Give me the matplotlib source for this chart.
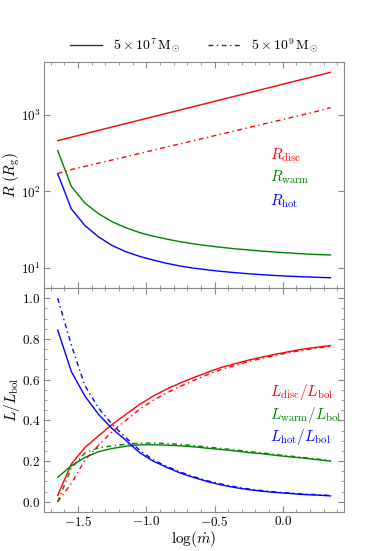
import numpy as np
import matplotlib
matplotlib.use("Agg")
import matplotlib.pyplot as plt
from matplotlib.ticker import MultipleLocator, NullLocator
from matplotlib.lines import Line2D

plt.rcParams['font.family'] = 'serif'
plt.rcParams['font.serif'] = ['cmr10']
plt.rcParams['mathtext.fontset'] = 'cm'
plt.rcParams['axes.formatter.use_mathtext'] = True
plt.rcParams['axes.unicode_minus'] = True

# log(mdot) grid
log_mdot = np.round(np.arange(-1.65, 0.36, 0.1), 2)

# radii (Rg), 5e7 Msun
r_disc_7 = [457, 506, 561, 622, 689, 763, 846, 937, 1038, 1150, 1275,
            1412, 1565, 1734, 1921, 2129, 2359, 2614, 2896, 3209, 3556]
r_warm_7 = [340, 116, 70, 51, 40, 33.5, 29, 26, 23.8, 22, 20.6,
            19.5, 18.6, 17.8, 17.2, 16.6, 16.1, 15.7, 15.3, 15.0, 14.8]
r_hot_7 = [170, 59, 35.7, 25.4, 19.6, 16.3, 14.2, 12.7, 11.5, 10.6, 9.95,
           9.45, 9.03, 8.7, 8.42, 8.18, 7.98, 7.82, 7.68, 7.57, 7.47]
# 5e9 Msun disc radius
r_disc_9 = [170, 192, 211, 233, 256, 282, 311, 343, 378, 416, 459,
            505, 557, 613, 676, 745, 820, 905, 997, 1100, 1230]

# luminosity fractions, 5e7 Msun
l_disc_7 = [0.031, 0.185, 0.267, 0.324, 0.380, 0.429, 0.478, 0.519, 0.554, 0.584, 0.611,
            0.636, 0.660, 0.678, 0.696, 0.711, 0.725, 0.738, 0.750, 0.759, 0.767]
l_warm_7 = [0.120, 0.177, 0.218, 0.246, 0.262, 0.273, 0.280, 0.280, 0.278, 0.275, 0.270,
            0.263, 0.257, 0.250, 0.242, 0.236, 0.228, 0.221, 0.215, 0.207, 0.200]
l_hot_7 = [0.844, 0.640, 0.519, 0.429, 0.359, 0.302, 0.242, 0.200, 0.169, 0.141, 0.119,
           0.099, 0.083, 0.070, 0.060, 0.052, 0.046, 0.041, 0.036, 0.033, 0.029]
# 5e9 Msun
l_disc_9 = [0.000, 0.090, 0.205, 0.278, 0.345, 0.400, 0.454, 0.498, 0.535, 0.567, 0.597,
            0.625, 0.650, 0.670, 0.689, 0.705, 0.720, 0.733, 0.745, 0.755, 0.764]
l_warm_9 = [0.000, 0.165, 0.240, 0.265, 0.275, 0.283, 0.288, 0.289, 0.286, 0.282, 0.276,
            0.269, 0.262, 0.255, 0.247, 0.240, 0.232, 0.225, 0.218, 0.210, 0.203]
l_hot_9 = [1.000, 0.770, 0.570, 0.460, 0.380, 0.315, 0.254, 0.206, 0.174, 0.146, 0.123,
           0.103, 0.087, 0.074, 0.063, 0.055, 0.048, 0.043, 0.038, 0.035, 0.031]

dd = (0, (3.5, 2.5, 1, 2.5))
grey = '#888888'
fs = 11

fig = plt.figure(figsize=(3.70, 5.51), dpi=100)
ax1 = fig.add_axes([0.119, 0.4773, 0.811, 0.4102])
ax2 = fig.add_axes([0.119, 0.0708, 0.811, 0.4065], sharex=ax1)

ax1.plot(log_mdot, r_disc_7, color='r', lw=1)
ax1.plot(log_mdot, r_warm_7, color='g', lw=1)
ax1.plot(log_mdot, r_hot_7, color='b', lw=1)
ax1.plot(log_mdot, r_disc_9, color='r', lw=1, ls=dd)
ax1.set_yscale('log')
ax1.yaxis.set_minor_locator(NullLocator())
ax1.set_ylabel(r'$R\ (R_{\rm g})$', fontsize=fs)
ax1.yaxis.set_label_coords(-0.073, 0.5)
ax1.text(0.753, 0.57, r'$R_{\rm disc}$', color='r', fontsize=fs, transform=ax1.transAxes)
ax1.text(0.753, 0.47, r'$R_{\rm warm}$', color='g', fontsize=fs, transform=ax1.transAxes)
ax1.text(0.753, 0.365, r'$R_{\rm hot}$', color='b', fontsize=fs, transform=ax1.transAxes)
plt.setp(ax1.get_xticklabels(), visible=False)

ax2.plot(log_mdot, l_disc_7, color='r', lw=1)
ax2.plot(log_mdot, l_warm_7, color='g', lw=1)
ax2.plot(log_mdot, l_hot_7, color='b', lw=1)
ax2.plot(log_mdot, l_disc_9, color='r', lw=1, ls=dd)
ax2.plot(log_mdot, l_warm_9, color='g', lw=1, ls=dd)
ax2.plot(log_mdot, l_hot_9, color='b', lw=1, ls=dd)
ax2.set_ylabel(r'$L/L_{\rm bol}$', fontsize=fs)
ax2.yaxis.set_label_coords(-0.073, 0.5)
ax2.set_xlabel(r'$\log(\dot{m})$', fontsize=fs, labelpad=0)
ax2.yaxis.set_major_locator(MultipleLocator(0.2))
ax2.yaxis.set_minor_locator(MultipleLocator(0.05))
ax2.xaxis.set_major_locator(MultipleLocator(0.5))
ax2.xaxis.set_minor_locator(MultipleLocator(0.1))
ax2.text(0.753, 0.52, r'$L_{\rm disc}/L_{\rm bol}$', color='r', fontsize=fs, transform=ax2.transAxes)
ax2.text(0.753, 0.415, r'$L_{\rm warm}/L_{\rm bol}$', color='g', fontsize=fs, transform=ax2.transAxes)
ax2.text(0.753, 0.315, r'$L_{\rm hot}/L_{\rm bol}$', color='b', fontsize=fs, transform=ax2.transAxes)

for ax in (ax1, ax2):
    for s in ax.spines.values():
        s.set_color(grey)
    ax.tick_params(which='both', direction='in', top=True, right=True,
                   color=grey, labelsize=9.5, pad=2.5)
    ax.tick_params(which='major', length=4)
    ax.tick_params(which='minor', length=2)

handles = [Line2D([], [], color='#333333', lw=1),
           Line2D([], [], color='#333333', lw=1, ls=dd)]
ax1.legend(handles, [r'$5\times10^{7}\,{\rm M}_{\odot}$', r'$5\times10^{9}\,{\rm M}_{\odot}$'],
           loc='lower center', bbox_to_anchor=(0.5, 1.0), ncol=2, frameon=False,
           fontsize=10, handlelength=2.3, columnspacing=2.0, borderaxespad=0.1)

fig.savefig('out.png', dpi=100)
